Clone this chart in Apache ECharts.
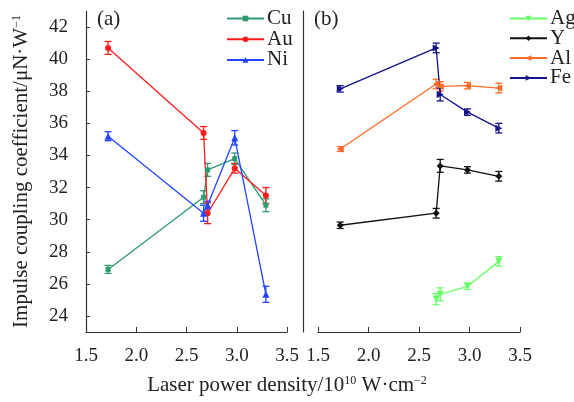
<!DOCTYPE html>
<html>
<head>
<meta charset="utf-8">
<script src="https://cdn.jsdelivr.net/npm/echarts@6/dist/echarts.min.js"></script>
<style>
  html, body { margin: 0; padding: 0; background: #fff; }
  #chart { width: 574px; height: 402px; }
</style>
</head>
<body>
<div id="chart"></div>
<script>
  // laser power density (10^10 W/cm^2)
  var xVals = [1.72, 2.67, 2.71, 2.98, 3.29];
  var xAg = [2.67, 2.71, 2.98, 3.29];

  // panel (a)
  var cuVals = [26.9, 31.4, 33.1, 33.8, 30.9];
  var cuErr = [0.25, 0.4, 0.4, 0.35, 0.4];
  var auVals = [40.7, 35.4, 30.4, 33.2, 31.5];
  var auErr = [0.4, 0.4, 0.65, 0.3, 0.5];
  var niVals = [35.2, 30.4, 30.9, 35.1, 25.35];
  var niErr = [0.28, 0.5, 0.25, 0.45, 0.5];

  // panel (b)
  var agVals = [25.05, 25.35, 25.85, 27.4];
  var agErr = [0.35, 0.4, 0.2, 0.3];
  var yVals = [29.65, 30.4, 33.35, 33.1, 32.7];
  var yErr = [0.2, 0.3, 0.4, 0.2, 0.3];
  var alVals = [34.4, 38.45, 38.3, 38.35, 38.2];
  var alErr = [0.15, 0.3, 0.3, 0.2, 0.3];
  var feVals = [38.15, 40.7, 37.8, 36.7, 35.7];
  var feErr = [0.2, 0.3, 0.4, 0.2, 0.3];

  var yTicks = [24, 26, 28, 30, 32, 34, 36, 38, 40, 42];

  var FONT = 'Liberation Serif';

  function pts(xs, ys) {
    return xs.map(function (x, i) { return [x, ys[i]]; });
  }

  function errBars(name, xs, ys, es, color, idx) {
    return {
      name: name,
      type: 'custom',
      xAxisIndex: idx,
      yAxisIndex: idx,
      silent: true,
      z: 3,
      data: xs.map(function (x, i) { return [x, ys[i] - es[i], ys[i] + es[i]]; }),
      renderItem: function (params, api) {
        var lo = api.coord([api.value(0), api.value(1)]);
        var hi = api.coord([api.value(0), api.value(2)]);
        var w = 3.5;
        var st = {stroke: color, lineWidth: 1.3};
        return {
          type: 'group',
          children: [
            {type: 'line', shape: {x1: lo[0], y1: lo[1], x2: hi[0], y2: hi[1]}, style: st},
            {type: 'line', shape: {x1: lo[0] - w, y1: lo[1], x2: lo[0] + w, y2: lo[1]}, style: st},
            {type: 'line', shape: {x1: hi[0] - w, y1: hi[1], x2: hi[0] + w, y2: hi[1]}, style: st}
          ]
        };
      }
    };
  }

  function lineSeries(name, xs, ys, color, symbol, size, idx, rotate) {
    return {
      name: name,
      type: 'line',
      xAxisIndex: idx,
      yAxisIndex: idx,
      data: pts(xs, ys),
      symbol: symbol,
      symbolSize: size,
      symbolRotate: rotate || 0,
      showAllSymbol: true,
      lineStyle: {color: color, width: 1.3},
      itemStyle: {color: color},
      z: 4
    };
  }

  var xAxisBase = {
    type: 'value',
    min: 1.5,
    max: 3.5,
    interval: 0.5,
    axisLine: {lineStyle: {color: '#333', width: 1.2}},
    axisTick: {inside: true, length: 5, lineStyle: {color: '#333'}},
    axisLabel: {
      fontFamily: FONT, fontSize: 19, color: '#222', margin: 15,
      formatter: function (v) { return v.toFixed(1); }
    },
    splitLine: {show: false}
  };

  var chart = echarts.init(document.getElementById('chart'));

  chart.setOption({
    animation: false,
    backgroundColor: '#fff',
    grid: [
      {left: 86, right: 287, top: 11, bottom: 70},
      {left: 318, right: 54, top: 11, bottom: 70}
    ],
    xAxis: [
      Object.assign({gridIndex: 0}, xAxisBase),
      Object.assign({gridIndex: 1}, xAxisBase)
    ],
    yAxis: [
      {
        gridIndex: 0,
        type: 'value',
        min: 23,
        max: 43,
        interval: 1,
        axisLine: {show: true, lineStyle: {color: '#333', width: 1.2}},
        axisTick: {
          inside: true, length: 4, lineStyle: {color: '#333'},
          customValues: yTicks
        },
        axisLabel: {
          fontFamily: FONT, fontSize: 19, color: '#222', margin: 18,
          customValues: yTicks
        },
        splitLine: {show: false},
        name: '{t|Impulse coupling coefficient/μN·W}{s|−1}',
        nameLocation: 'middle',
        nameGap: 54,
        nameTextStyle: {
          rich: {
            t: {fontFamily: FONT, fontSize: 21, color: '#222'},
            s: {fontFamily: FONT, fontSize: 12, color: '#222', verticalAlign: 'top', padding: [0, 0, 9, 0]}
          }
        }
      },
      {
        gridIndex: 1,
        type: 'value',
        min: 23,
        max: 43,
        offset: 15,
        axisLine: {show: true, lineStyle: {color: '#333', width: 1.2}},
        axisTick: {show: false},
        axisLabel: {show: false},
        splitLine: {show: false}
      }
    ],
    legend: [
      {
        data: ['Cu', 'Au', 'Ni'],
        orient: 'vertical',
        left: 221,
        top: 3,
        itemWidth: 37,
        itemHeight: 7,
        itemGap: -0.3,
        textStyle: {fontFamily: FONT, fontSize: 21, color: '#222', padding: [0, 0, 0, -2]}
      },
      {
        data: ['Ag', 'Y', 'Al', 'Fe'],
        orient: 'vertical',
        left: 504,
        top: 3,
        itemWidth: 37,
        itemHeight: 7,
        itemGap: -1.2,
        textStyle: {fontFamily: FONT, fontSize: 21, color: '#222', padding: [0, 0, 0, -2]}
      }
    ],
    graphic: [
      {type: 'text', left: 97, top: 9, style: {text: '(a)', font: '21px "Liberation Serif"', fill: '#222'}},
      {type: 'text', left: 314, top: 9, style: {text: '(b)', font: '21px "Liberation Serif"', fill: '#222'}},
      {
        type: 'text', left: 'center', top: 375,
        style: {
          text: '{t|Laser power density/10}{s|10}{t| W·cm}{s|−2}',
          rich: {
            t: {fontFamily: FONT, fontSize: 21, fill: '#222'},
            s: {fontFamily: FONT, fontSize: 12, fill: '#222', verticalAlign: 'top', padding: [0, 0, 9, 0]}
          }
        }
      }
    ],
    series: [
      lineSeries('Cu', xVals, cuVals, '#2e9a70', 'rect', 5, 0),
      lineSeries('Au', xVals, auVals, '#ff1a1a', 'circle', 6, 0),
      lineSeries('Ni', xVals, niVals, '#2244ff', 'triangle', 7, 0),
      errBars('Cu', xVals, cuVals, cuErr, '#2e9a70', 0),
      errBars('Au', xVals, auVals, auErr, '#ff1a1a', 0),
      errBars('Ni', xVals, niVals, niErr, '#2244ff', 0),

      lineSeries('Ag', xAg, agVals, '#66ff66', 'triangle', 7, 1, 180),
      lineSeries('Y', xVals, yVals, '#111111', 'diamond', 7, 1),
      lineSeries('Al', xVals, alVals, '#ff6a26', 'triangle', 7, 1, 90),
      lineSeries('Fe', xVals, feVals, '#12128a', 'triangle', 7, 1, -90),
      errBars('Ag', xAg, agVals, agErr, '#66ff66', 1),
      errBars('Y', xVals, yVals, yErr, '#111111', 1),
      errBars('Al', xVals, alVals, alErr, '#ff6a26', 1),
      errBars('Fe', xVals, feVals, feErr, '#12128a', 1)
    ]
  });
</script>
</body>
</html>
